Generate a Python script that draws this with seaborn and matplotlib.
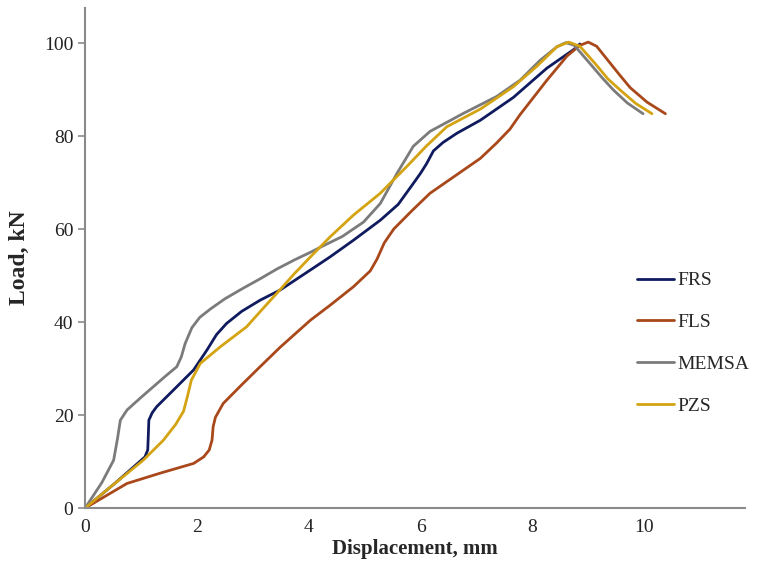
import numpy as np
import pandas as pd
import seaborn as sns
import matplotlib.pyplot as plt

# values
series_names = ['FRS', 'FLS', 'MEMSA', 'PZS']
series_colors = ['#0F1B5E', '#A8481B', '#7B7B7B', '#D4A312']

frs_x = [0, 0.55, 1.07, 1.12, 1.13, 1.14, 1.20, 1.28, 1.64, 1.94, 2.18, 2.35, 2.53, 2.80,
         3.13, 3.49, 4.03, 4.38, 4.80, 5.28, 5.60, 5.87, 6.00, 6.11, 6.23, 6.40, 6.65,
         7.07, 7.66, 8.26, 8.74, 8.85]
frs_y = [0, 5.5, 11.0, 12.5, 15.5, 18.9, 20.5, 21.8, 26.1, 29.7, 34.0, 37.3, 39.7, 42.3,
         44.7, 46.9, 51.2, 54.0, 57.6, 61.9, 65.3, 69.8, 72.0, 74.1, 76.8, 78.6, 80.6,
         83.4, 88.3, 94.6, 98.6, 99.8]

fls_x = [0, 0.75, 1.34, 1.94, 2.12, 2.22, 2.27, 2.29, 2.33, 2.47, 2.80, 3.13, 3.49, 4.03,
         4.38, 4.80, 5.10, 5.22, 5.35, 5.52, 5.85, 6.17, 6.77, 7.07, 7.36, 7.60, 7.78,
         8.26, 8.62, 8.85, 9.00, 9.15, 9.33, 9.55, 9.75, 10.05, 10.38]
fls_y = [0, 5.3, 7.5, 9.6, 11.0, 12.5, 14.6, 17.5, 19.5, 22.5, 26.5, 30.4, 34.6, 40.4,
         43.6, 47.6, 51.0, 53.5, 57.0, 60.0, 64.0, 67.7, 72.7, 75.2, 78.5, 81.5, 84.6,
         92.0, 97.2, 99.5, 100.2, 99.3, 96.6, 93.3, 90.4, 87.3, 84.8]

memsa_x = [0, 0.30, 0.51, 0.58, 0.63, 0.75, 1.00, 1.22, 1.45, 1.64, 1.72, 1.79, 1.91,
           2.05, 2.24, 2.50, 2.83, 3.13, 3.43, 3.75, 4.03, 4.26, 4.60, 4.98, 5.28, 5.58,
           5.87, 6.17, 6.77, 7.36, 7.78, 8.14, 8.44, 8.60, 8.75, 9.03, 9.25, 9.45, 9.70,
           9.98]
memsa_y = [0, 5.5, 10.3, 15.0, 18.9, 21.1, 23.8, 26.1, 28.5, 30.4, 32.5, 35.4, 38.8,
           41.0, 42.8, 45.0, 47.3, 49.3, 51.4, 53.4, 55.0, 56.4, 58.4, 61.5, 65.5, 72.0,
           77.8, 81.0, 84.9, 88.5, 92.0, 96.3, 99.2, 100.1, 99.5, 95.6, 92.5, 89.9, 87.1,
           84.8]

pzs_x = [0, 0.50, 1.04, 1.40, 1.62, 1.76, 1.83, 1.90, 2.06, 2.42, 2.89, 3.15, 3.43, 3.75,
         4.03, 4.38, 4.80, 5.28, 5.75, 6.10, 6.47, 7.07, 7.66, 8.08, 8.44, 8.65, 8.85,
         9.15, 9.35, 9.57, 9.85, 10.14]
pzs_y = [0, 5.0, 10.3, 14.6, 18.0, 20.8, 24.0, 27.5, 31.1, 34.7, 39.0, 42.5, 46.2, 50.5,
         54.0, 58.3, 63.0, 67.7, 73.4, 77.8, 82.0, 85.8, 90.6, 95.0, 99.2, 100.2, 99.3,
         95.2, 92.3, 89.9, 87.0, 84.8]

x_ticks = [0, 2, 4, 6, 8, 10]
y_ticks = [0, 20, 40, 60, 80, 100]

frames = []
for name, xs, ys in zip(series_names, [frs_x, fls_x, memsa_x, pzs_x],
                        [frs_y, fls_y, memsa_y, pzs_y]):
    frames.append(pd.DataFrame({'Displacement': xs, 'Load': ys, 'Series': name,
                                'order': np.arange(len(xs))}))
df = pd.concat(frames, ignore_index=True)

sns.set_style('white')
plt.rcParams['font.family'] = ['Liberation Serif', 'DejaVu Serif']

fig = plt.figure(figsize=(7.6, 5.82), dpi=100)
ax = fig.add_axes([0.112, 0.127, 0.868, 0.859])

for name, color in zip(series_names, series_colors):
    sub = df[df['Series'] == name]
    sns.lineplot(data=sub, x='Displacement', y='Load', sort=False, ax=ax,
                 color=color, linewidth=2.0, label=name,
                 solid_joinstyle='round', solid_capstyle='round')

ax.set_xlim(0, 11.8)
ax.set_ylim(0, 107.5)
ax.set_xticks(x_ticks)
ax.set_yticks(y_ticks)
ax.tick_params(axis='both', labelsize=14, colors='#222222')
ax.tick_params(axis='y', length=5, width=1.2, color='#8A8A8A', direction='out', left=True)
ax.tick_params(axis='x', length=0, pad=8)

for side in ['top', 'right']:
    ax.spines[side].set_visible(False)
for side in ['left', 'bottom']:
    ax.spines[side].set_color('#8A8A8A')
    ax.spines[side].set_linewidth(1.5)

ax.set_xlabel('Displacement, mm', fontsize=15, fontweight='bold', labelpad=2)
ax.set_ylabel('Load, kN', fontsize=17, fontweight='bold', labelpad=10)

leg = ax.legend(loc='center left', bbox_to_anchor=(0.815, 0.41), bbox_transform=fig.transFigure,
                frameon=False, fontsize=14, handlelength=1.9, handletextpad=0.2,
                labelspacing=1.25)

fig.savefig('out.png', dpi=100)
